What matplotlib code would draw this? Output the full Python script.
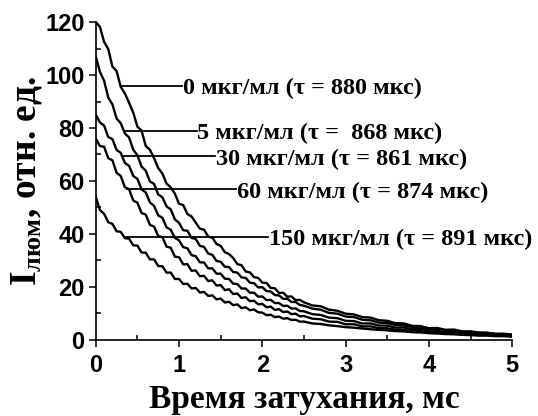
import matplotlib
matplotlib.use("Agg")
import matplotlib.pyplot as plt
from matplotlib.ticker import MultipleLocator

plt.rcParams['mathtext.fontset'] = 'custom'
plt.rcParams['mathtext.rm'] = 'Liberation Serif:bold'
plt.rcParams['mathtext.it'] = 'Liberation Serif:bold'
plt.rcParams['mathtext.bf'] = 'Liberation Serif:bold'

# time, ms
t = [0.0, 0.05, 0.1, 0.15, 0.2, 0.25, 0.3, 0.35, 0.4, 0.45,
     0.5, 0.55, 0.6, 0.65, 0.7, 0.75, 0.8, 0.85, 0.9, 0.95,
     1.0, 1.05, 1.1, 1.15, 1.2, 1.25, 1.3, 1.35, 1.4, 1.45,
     1.5, 1.55, 1.6, 1.65, 1.7, 1.75, 1.8, 1.85, 1.9, 1.95,
     2.0, 2.05, 2.1, 2.15, 2.2, 2.25, 2.3, 2.35, 2.4, 2.45,
     2.5, 2.6, 2.7, 2.8, 2.9, 3.0, 3.1, 3.2, 3.3, 3.4,
     3.5, 3.6, 3.7, 3.8, 3.9, 4.0, 4.1, 4.2, 4.3, 4.4,
     4.5, 4.6, 4.7, 4.8, 4.9, 5.0]

# luminescence intensity, rel. units
i_0 = [120.0, 118.2, 112.5, 109.8, 103.2, 101.5, 95.5, 93.0, 89.5, 85.8,
       80.5, 79.0, 73.2, 71.8, 68.6, 64.9, 62.8, 59.0, 57.6, 55.2,
       51.4, 50.9, 47.5, 46.6, 44.3, 42.0, 41.6, 39.0, 38.6, 36.2,
       35.5, 33.1, 32.4, 30.9, 28.6, 28.2, 25.8, 25.5, 23.7, 23.4,
       21.6, 21.5, 19.6, 19.5, 17.7, 17.8, 16.3, 16.4, 15.0, 15.1,
       14.2, 13.0, 12.7, 11.4, 11.0, 9.9, 9.6, 8.6, 8.4, 7.4,
       7.2, 6.3, 6.2, 5.3, 5.2, 4.4, 4.5, 3.8, 3.9, 3.2,
       3.2, 2.8, 2.7, 2.3, 2.3, 2.0]
i_5 = [107.0, 101.2, 97.8, 91.5, 88.9, 83.6, 81.8, 77.9, 76.4, 71.8,
       69.7, 65.4, 63.9, 59.8, 58.9, 54.9, 53.8, 50.4, 49.3, 45.5,
       44.2, 41.4, 41.2, 38.5, 38.1, 35.5, 35.1, 32.6, 32.1, 29.8,
       29.5, 27.6, 27.5, 25.6, 25.4, 23.6, 23.4, 21.6, 21.4, 19.8,
       19.9, 18.4, 18.3, 16.9, 16.8, 15.5, 15.5, 14.3, 14.3, 13.2,
       12.9, 11.8, 11.4, 10.2, 9.9, 8.8, 8.6, 7.6, 7.4, 6.5,
       6.4, 5.6, 5.5, 4.8, 4.7, 4.1, 4.0, 3.5, 3.4, 3.0,
       3.0, 2.6, 2.6, 2.2, 2.2, 1.9]
i_30 = [85.0, 82.1, 80.9, 76.6, 75.8, 71.7, 70.6, 66.8, 65.7, 61.9,
        60.8, 56.8, 55.7, 51.9, 50.6, 47.0, 46.1, 42.5, 41.6, 38.5,
        37.6, 35.0, 34.6, 32.0, 31.6, 29.3, 29.2, 27.0, 27.0, 25.0,
        25.0, 23.1, 23.0, 21.2, 21.1, 19.4, 19.4, 17.8, 17.8, 16.3,
        16.4, 15.0, 15.1, 13.9, 13.9, 12.8, 12.9, 11.8, 11.9, 10.9,
        10.8, 9.7, 9.4, 8.4, 8.2, 7.2, 7.1, 6.2, 6.2, 5.4,
        5.4, 4.6, 4.7, 4.0, 4.1, 3.5, 3.5, 3.0, 3.0, 2.6,
        2.6, 2.2, 2.2, 1.9, 1.9, 1.7]
i_60 = [76.0, 73.2, 72.9, 68.6, 67.8, 63.1, 61.9, 57.6, 56.9, 52.6,
        51.8, 47.9, 47.3, 43.4, 42.8, 39.2, 38.8, 35.2, 34.8, 31.4,
        31.2, 28.5, 28.6, 26.1, 26.2, 24.0, 24.2, 22.2, 22.5, 20.5,
        20.7, 18.8, 19.1, 17.3, 17.5, 15.8, 16.1, 14.6, 14.8, 13.4,
        13.6, 12.3, 12.6, 11.3, 11.6, 10.5, 10.7, 9.7, 9.9, 8.9,
        9.0, 8.0, 7.8, 6.9, 6.8, 5.9, 5.9, 5.1, 5.1, 4.4,
        4.4, 3.8, 3.8, 3.3, 3.3, 2.9, 2.9, 2.5, 2.5, 2.1,
        2.2, 1.8, 1.9, 1.6, 1.6, 1.4]
i_150 = [54.0, 49.0, 47.6, 44.4, 43.8, 41.0, 40.8, 38.4, 38.2, 35.7,
         35.6, 33.0, 32.9, 30.4, 30.4, 27.9, 27.8, 25.4, 25.4, 23.0,
         23.0, 21.1, 21.2, 19.4, 19.6, 17.9, 18.1, 16.6, 16.8, 15.3,
         15.6, 14.1, 14.4, 13.1, 13.4, 12.0, 12.3, 11.2, 11.5, 10.4,
         10.3, 9.3, 9.5, 8.6, 8.8, 8.0, 8.2, 7.5, 7.6, 6.9,
         6.9, 6.2, 6.0, 5.5, 5.2, 4.8, 4.6, 4.3, 4.0, 3.8,
         3.6, 3.3, 3.2, 2.9, 2.8, 2.5, 2.4, 2.2, 2.1, 1.9,
         1.8, 1.6, 1.6, 1.4, 1.4, 1.2]

labels = ['0 мкг/мл (τ = 880 мкс)',
          '5 мкг/мл (τ =  868 мкс)',
          '30 мкг/мл (τ = 861 мкс)',
          '60 мкг/мл (τ = 874 мкс)',
          '150 мкг/мл (τ = 891 мкс)']

# leader lines: start on curve, end at label (x in ms, y in rel. units)
lead_x0 = [0.30, 0.35, 0.33, 0.38, 0.36]
lead_x1 = [1.04, 1.21, 1.43, 1.68, 2.07]
lead_y = [96, 79, 69.3, 57, 39]

serif = 'Liberation Serif'
sans = 'Liberation Sans'

fig = plt.figure(figsize=(5.38, 4.16), dpi=100)
ax = fig.add_axes([0.178, 0.183, 0.774, 0.764])

for y in [i_0, i_5, i_30, i_60, i_150]:
    ax.plot(t, y, color='black', lw=1.7)

for x0, x1, y, lab in zip(lead_x0, lead_x1, lead_y, labels):
    ax.plot([x0, x1], [y, y], color='black', lw=1.3)
    ax.text(x1 + 0.01, y - 1.2, lab, fontfamily=serif, fontweight='bold',
            fontsize=17.5, va='center', ha='left')

ax.set_xlim(0, 5)
ax.set_ylim(0, 120)
ax.xaxis.set_major_locator(MultipleLocator(1))
ax.xaxis.set_minor_locator(MultipleLocator(0.5))
ax.yaxis.set_major_locator(MultipleLocator(20))
ax.yaxis.set_minor_locator(MultipleLocator(10))
ax.tick_params(which='major', direction='out', length=5, width=1.1, pad=3)
ax.tick_params(axis='x', which='major', pad=5)
ax.tick_params(which='minor', direction='in', length=3.5, width=1.1)
for lab in ax.get_xticklabels() + ax.get_yticklabels():
    lab.set_fontfamily(sans)
    lab.set_fontweight('bold')
    lab.set_fontsize(17)

for side in ['top', 'right']:
    ax.spines[side].set_visible(False)
for side in ['left', 'bottom']:
    ax.spines[side].set_linewidth(1.2)

ax.set_xlabel('Время затухания, мс', fontfamily=serif, fontweight='bold',
              fontsize=24, labelpad=5)
ax.set_ylabel(r'I$_{\mathrm{люм}}$, отн. ед.', fontfamily=serif,
              fontweight='bold', fontsize=27, labelpad=1)

fig.savefig('out.png', dpi=100)
